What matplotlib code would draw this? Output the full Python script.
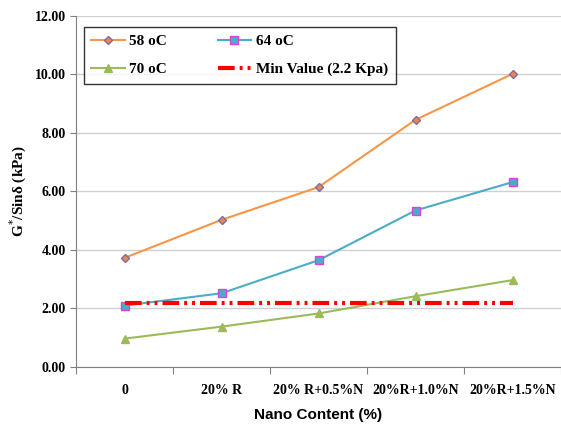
import numpy as np
import matplotlib.pyplot as plt

# data
categories = ["0", "20% R", "20% R+0.5%N", "20%R+1.0%N", "20%R+1.5%N"]
g_58 = [3.73, 5.03, 6.15, 8.45, 10.02]
g_64 = [2.10, 2.52, 3.65, 5.35, 6.32]
g_70 = [0.97, 1.38, 1.83, 2.42, 2.97]
min_value = [2.2, 2.2, 2.2, 2.2, 2.2]
y_ticks = [0, 2, 4, 6, 8, 10, 12]


def main():
    fig = plt.figure(figsize=(5.61, 4.26), dpi=100)
    ax = fig.add_axes([0.1355, 0.1385, 0.8645, 0.824])

    x = np.arange(len(categories))

    l58, = ax.plot(x, g_58, color="#F79646", lw=1.5, marker="D", ms=4.5,
                   mfc="#E8884A", mec="#7F6AA8", mew=1, label="58 oC")
    l64, = ax.plot(x, g_64, color="#4BACC6", lw=1.5, marker="s", ms=6,
                   mfc="#4BACC6", mec="#E040E0", mew=1, label="64 oC")
    l70, = ax.plot(x, g_70, color="#9BBB59", lw=1.5, marker="^", ms=6,
                   mfc="#9BBB59", mec="#9BBB59", label="70 oC")
    lmin, = ax.plot(x, min_value, color="#FF0000", lw=3,
                    dashes=(4.0, 1.2, 0.7, 1.2, 0.7, 1.2),
                    label="Min Value (2.2 Kpa)")

    ax.set_xlim(-0.5, 4.45)
    ax.set_ylim(0, 12)
    ax.set_yticks(y_ticks)
    ax.set_yticklabels([f"{v:.2f}" for v in y_ticks],
                       family="Liberation Serif", weight="bold", fontsize=10)

    # category labels in the middle, ticks at the boundaries
    ax.set_xticks(np.arange(-0.5, 5, 1))
    ax.set_xticklabels([])
    ax.set_xticks(x, minor=True)
    ax.set_xticklabels(categories, minor=True,
                       family="Liberation Serif", weight="bold", fontsize=10)
    ax.tick_params(axis="x", which="minor", length=0, pad=12)
    ax.tick_params(axis="x", which="major", length=5, color="#808080")
    ax.tick_params(axis="y", length=4, color="#808080")

    ax.grid(axis="y", color="#D0D0D0", lw=1)
    ax.set_axisbelow(True)
    for side in ["top", "right"]:
        ax.spines[side].set_visible(False)
    for side in ["left", "bottom"]:
        ax.spines[side].set_color("#808080")

    ax.set_ylabel("G$^{*}$/Sinδ (kPa)", family="Liberation Serif",
                  weight="bold", fontsize=11, labelpad=4)
    ax.set_xlabel("Nano Content (%)", family="Liberation Sans",
                  weight="bold", fontsize=11, labelpad=8)

    # order so that rows read 58/64 then 70/min
    leg = ax.legend([l58, l70, l64, lmin],
                    [l58.get_label(), l70.get_label(), l64.get_label(), lmin.get_label()],
                    loc="upper left", bbox_to_anchor=(0.0, 0.99), ncol=2,
                    prop={"family": "Liberation Serif", "weight": "bold", "size": 11},
                    frameon=True, fancybox=False, edgecolor="black",
                    handlelength=2.2, columnspacing=3.3, labelspacing=0.9,
                    borderpad=0.5, handletextpad=0.3)
    leg.get_frame().set_linewidth(1)

    fig.savefig("out.png", dpi=100, facecolor="white")


if __name__ == "__main__":
    main()
